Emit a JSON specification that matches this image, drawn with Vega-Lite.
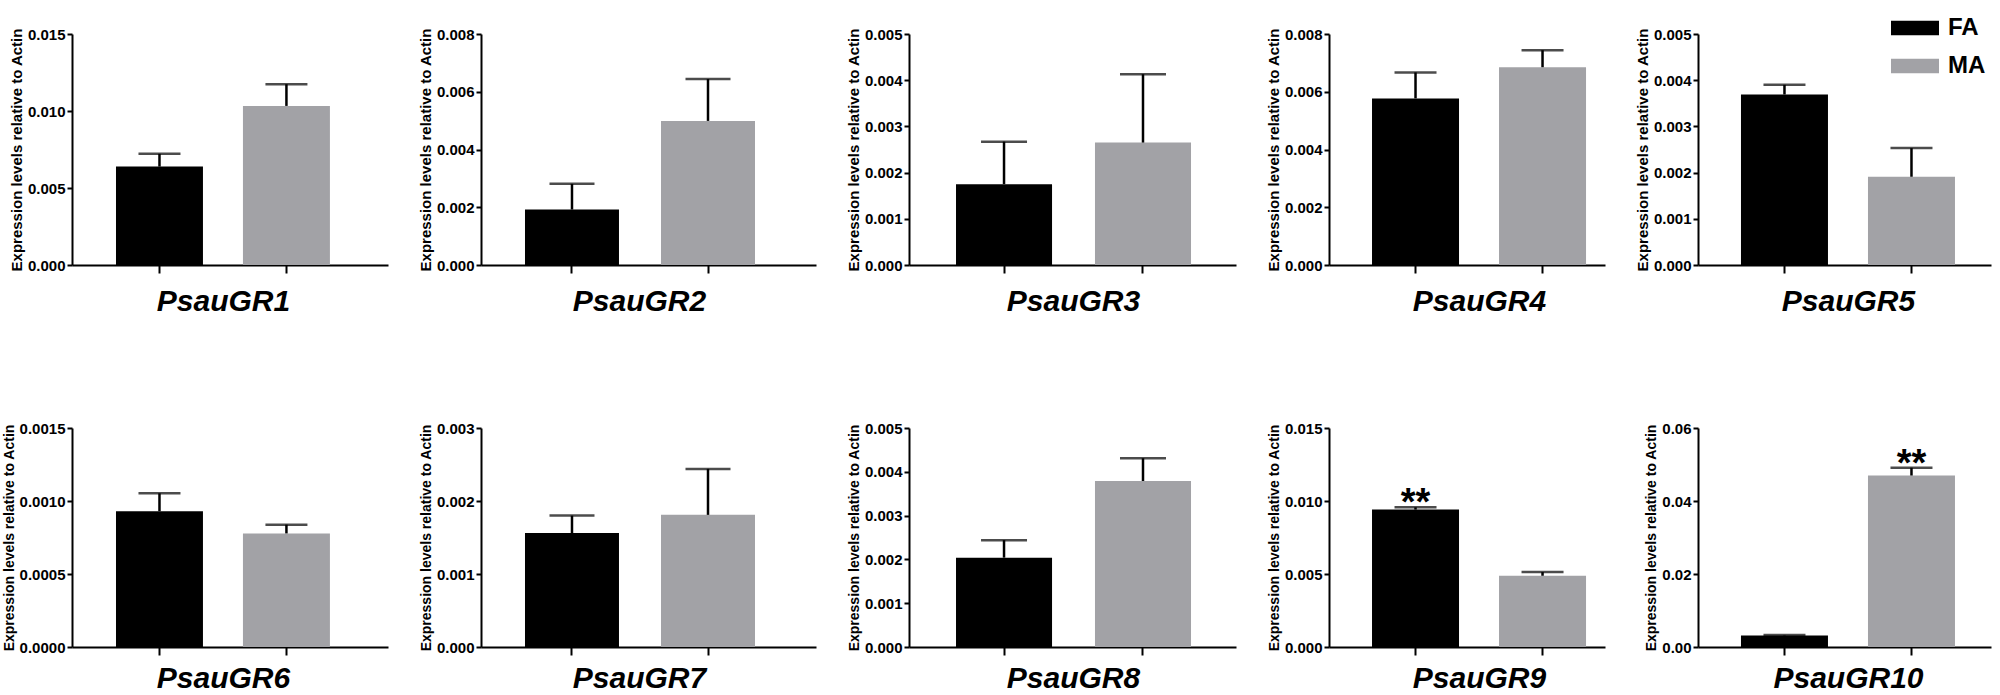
{
  "$schema": "https://vega.github.io/schema/vega-lite/v6.json",
  "padding": {"top": 4, "left": 2, "right": 2, "bottom": 0},
  "background": "white",
  "datasets": {
    "d": [
      {"gene": "PsauGR1", "group": "FA", "value": 0.00639, "hi": 0.00722, "sig": ""},
      {"gene": "PsauGR1", "group": "MA", "value": 0.01033, "hi": 0.01174, "sig": ""},
      {"gene": "PsauGR2", "group": "FA", "value": 0.00192, "hi": 0.00281, "sig": ""},
      {"gene": "PsauGR2", "group": "MA", "value": 0.00499, "hi": 0.00644, "sig": ""},
      {"gene": "PsauGR3", "group": "FA", "value": 0.00175, "hi": 0.00267, "sig": ""},
      {"gene": "PsauGR3", "group": "MA", "value": 0.00265, "hi": 0.00413, "sig": ""},
      {"gene": "PsauGR4", "group": "FA", "value": 0.00577, "hi": 0.00667, "sig": ""},
      {"gene": "PsauGR4", "group": "MA", "value": 0.00685, "hi": 0.00744, "sig": ""},
      {"gene": "PsauGR5", "group": "FA", "value": 0.00369, "hi": 0.0039, "sig": ""},
      {"gene": "PsauGR5", "group": "MA", "value": 0.00191, "hi": 0.00253, "sig": ""},
      {"gene": "PsauGR6", "group": "FA", "value": 0.00093, "hi": 0.001053, "sig": ""},
      {"gene": "PsauGR6", "group": "MA", "value": 0.000778, "hi": 0.000838, "sig": ""},
      {"gene": "PsauGR7", "group": "FA", "value": 0.00156, "hi": 0.0018, "sig": ""},
      {"gene": "PsauGR7", "group": "MA", "value": 0.00181, "hi": 0.00244, "sig": ""},
      {"gene": "PsauGR8", "group": "FA", "value": 0.00204, "hi": 0.00244, "sig": ""},
      {"gene": "PsauGR8", "group": "MA", "value": 0.00379, "hi": 0.00431, "sig": ""},
      {"gene": "PsauGR9", "group": "FA", "value": 0.00941, "hi": 0.00957, "sig": "**"},
      {"gene": "PsauGR9", "group": "MA", "value": 0.00488, "hi": 0.00513, "sig": ""},
      {"gene": "PsauGR10", "group": "FA", "value": 0.00316, "hi": 0.0033, "sig": ""},
      {"gene": "PsauGR10", "group": "MA", "value": 0.04698, "hi": 0.04912, "sig": "**"}
    ]
  },
  "columns": 5,
  "bounds": "flush",
  "align": "each",
  "spacing": {"row": 163, "column": 93},
  "resolve": {"scale": {"color": "independent"}, "legend": {"color": "independent"}},
  "concat": [
    {
      "width": 316, "height": 231,
      "data": {"name": "d"},
      "transform": [{"filter": "datum.gene === 'PsauGR1'"}],
      "encoding": {"x": {"field": "group", "type": "nominal", "sort": ["FA", "MA"], "scale": {"paddingInner": 0.315, "paddingOuter": 0.402, "align": 0.431}, "axis": {"title": "PsauGR1", "titleX": 151, "titlePadding": 12}}},
      "layer": [
        {"mark": {"type": "bar"}, "encoding": {
          "y": {"field": "value", "type": "quantitative", "title": "Expression levels relative to Actin", "scale": {"domain": [0, 0.015], "nice": false}, "axis": {"values": [0, 0.005, 0.01, 0.015], "format": ".3f"}},
          "color": {"field": "group", "type": "nominal", "scale": {"domain": ["FA", "MA"], "range": ["#000000", "#a2a2a6"]}, "legend": null}}},
        {"mark": {"type": "rule", "strokeWidth": 2.5, "color": "black"}, "encoding": {"y": {"field": "value", "type": "quantitative", "title": "Expression levels relative to Actin"}, "y2": {"field": "hi"}}},
        {"mark": {"type": "tick", "size": 42, "thickness": 2.5, "color": "black"}, "encoding": {"y": {"field": "hi", "type": "quantitative", "title": "Expression levels relative to Actin"}}}
      ]
    },
    {
      "width": 335, "height": 231,
      "data": {"name": "d"},
      "transform": [{"filter": "datum.gene === 'PsauGR2'"}],
      "encoding": {"x": {"field": "group", "type": "nominal", "sort": ["FA", "MA"], "scale": {"paddingInner": 0.309, "paddingOuter": 0.386, "align": 0.419}, "axis": {"title": "PsauGR2", "titleX": 158, "titlePadding": 12}}},
      "layer": [
        {"mark": {"type": "bar"}, "encoding": {
          "y": {"field": "value", "type": "quantitative", "title": "Expression levels relative to Actin", "scale": {"domain": [0, 0.008], "nice": false}, "axis": {"values": [0, 0.002, 0.004, 0.006, 0.008], "format": ".3f"}},
          "color": {"field": "group", "type": "nominal", "scale": {"domain": ["FA", "MA"], "range": ["#000000", "#a2a2a6"]}, "legend": null}}},
        {"mark": {"type": "rule", "strokeWidth": 2.5, "color": "black"}, "encoding": {"y": {"field": "value", "type": "quantitative", "title": "Expression levels relative to Actin"}, "y2": {"field": "hi"}}},
        {"mark": {"type": "tick", "size": 45, "thickness": 2.5, "color": "black"}, "encoding": {"y": {"field": "hi", "type": "quantitative", "title": "Expression levels relative to Actin"}}}
      ]
    },
    {
      "width": 327, "height": 231,
      "data": {"name": "d"},
      "transform": [{"filter": "datum.gene === 'PsauGR3'"}],
      "encoding": {"x": {"field": "group", "type": "nominal", "sort": ["FA", "MA"], "scale": {"paddingInner": 0.309, "paddingOuter": 0.331, "align": 0.511}, "axis": {"title": "PsauGR3", "titleX": 164, "titlePadding": 12}}},
      "layer": [
        {"mark": {"type": "bar"}, "encoding": {
          "y": {"field": "value", "type": "quantitative", "title": "Expression levels relative to Actin", "scale": {"domain": [0, 0.005], "nice": false}, "axis": {"values": [0, 0.001, 0.002, 0.003, 0.004, 0.005], "format": ".3f"}},
          "color": {"field": "group", "type": "nominal", "scale": {"domain": ["FA", "MA"], "range": ["#000000", "#a2a2a6"]}, "legend": null}}},
        {"mark": {"type": "rule", "strokeWidth": 2.5, "color": "black"}, "encoding": {"y": {"field": "value", "type": "quantitative", "title": "Expression levels relative to Actin"}, "y2": {"field": "hi"}}},
        {"mark": {"type": "tick", "size": 46, "thickness": 2.5, "color": "black"}, "encoding": {"y": {"field": "hi", "type": "quantitative", "title": "Expression levels relative to Actin"}}}
      ]
    },
    {
      "width": 276, "height": 231,
      "data": {"name": "d"},
      "transform": [{"filter": "datum.gene === 'PsauGR4'"}],
      "encoding": {"x": {"field": "group", "type": "nominal", "sort": ["FA", "MA"], "scale": {"paddingInner": 0.315, "paddingOuter": 0.244, "align": 0.694}, "axis": {"title": "PsauGR4", "titleX": 150, "titlePadding": 12}}},
      "layer": [
        {"mark": {"type": "bar"}, "encoding": {
          "y": {"field": "value", "type": "quantitative", "title": "Expression levels relative to Actin", "scale": {"domain": [0, 0.008], "nice": false}, "axis": {"values": [0, 0.002, 0.004, 0.006, 0.008], "format": ".3f"}},
          "color": {"field": "group", "type": "nominal", "scale": {"domain": ["FA", "MA"], "range": ["#000000", "#a2a2a6"]}, "legend": null}}},
        {"mark": {"type": "rule", "strokeWidth": 2.5, "color": "black"}, "encoding": {"y": {"field": "value", "type": "quantitative", "title": "Expression levels relative to Actin"}, "y2": {"field": "hi"}}},
        {"mark": {"type": "tick", "size": 42, "thickness": 2.5, "color": "black"}, "encoding": {"y": {"field": "hi", "type": "quantitative", "title": "Expression levels relative to Actin"}}}
      ]
    },
    {
      "width": 293, "height": 231,
      "data": {"name": "d"},
      "transform": [{"filter": "datum.gene === 'PsauGR5'"}],
      "encoding": {"x": {"field": "group", "type": "nominal", "sort": ["FA", "MA"], "scale": {"paddingInner": 0.315, "paddingOuter": 0.311, "align": 0.544}, "axis": {"title": "PsauGR5", "titleX": 150, "titlePadding": 12}}},
      "layer": [
        {"mark": {"type": "bar"}, "encoding": {
          "y": {"field": "value", "type": "quantitative", "title": "Expression levels relative to Actin", "scale": {"domain": [0, 0.005], "nice": false}, "axis": {"values": [0, 0.001, 0.002, 0.003, 0.004, 0.005], "format": ".3f"}},
          "color": {"field": "group", "type": "nominal", "scale": {"domain": ["FA", "MA"], "range": ["#000000", "#a2a2a6"]}, "legend": {"orient": "none", "legendX": 193, "legendY": -30, "title": null, "padding": 0, "symbolType": "M-1,-0.3L1,-0.3L1,0.3L-1,0.3Z", "symbolSize": 2304, "symbolStrokeWidth": 0, "labelFontSize": 24, "labelFontWeight": "bold", "labelColor": "black", "labelFont": "Liberation Sans", "labelOffset": 9, "rowPadding": 2, "encode": {"symbols": {"update": {"fill": {"signal": "datum.value === 'MA' ? '#c6c6c6' : '#000000'"}}}}}}}},
        {"mark": {"type": "rule", "strokeWidth": 2.5, "color": "black"}, "encoding": {"y": {"field": "value", "type": "quantitative", "title": "Expression levels relative to Actin"}, "y2": {"field": "hi"}}},
        {"mark": {"type": "tick", "size": 42, "thickness": 2.5, "color": "black"}, "encoding": {"y": {"field": "hi", "type": "quantitative", "title": "Expression levels relative to Actin"}}}
      ]
    },
    {
      "width": 316, "height": 219,
      "data": {"name": "d"},
      "transform": [{"filter": "datum.gene === 'PsauGR6'"}],
      "encoding": {"x": {"field": "group", "type": "nominal", "sort": ["FA", "MA"], "scale": {"paddingInner": 0.315, "paddingOuter": 0.402, "align": 0.431}, "axis": {"title": "PsauGR6", "titleX": 151, "titlePadding": 7}}},
      "layer": [
        {"mark": {"type": "bar"}, "encoding": {
          "y": {"field": "value", "type": "quantitative", "title": "Expression levels relative to Actin", "scale": {"domain": [0, 0.0015], "nice": false}, "axis": {"values": [0, 0.0005, 0.001, 0.0015], "format": ".4f", "titleFontSize": 14}},
          "color": {"field": "group", "type": "nominal", "scale": {"domain": ["FA", "MA"], "range": ["#000000", "#a2a2a6"]}, "legend": null}}},
        {"mark": {"type": "rule", "strokeWidth": 2.5, "color": "black"}, "encoding": {"y": {"field": "value", "type": "quantitative", "title": "Expression levels relative to Actin"}, "y2": {"field": "hi"}}},
        {"mark": {"type": "tick", "size": 42, "thickness": 2.5, "color": "black"}, "encoding": {"y": {"field": "hi", "type": "quantitative", "title": "Expression levels relative to Actin"}}}
      ]
    },
    {
      "width": 335, "height": 219,
      "data": {"name": "d"},
      "transform": [{"filter": "datum.gene === 'PsauGR7'"}],
      "encoding": {"x": {"field": "group", "type": "nominal", "sort": ["FA", "MA"], "scale": {"paddingInner": 0.309, "paddingOuter": 0.386, "align": 0.419}, "axis": {"title": "PsauGR7", "titleX": 158, "titlePadding": 7}}},
      "layer": [
        {"mark": {"type": "bar"}, "encoding": {
          "y": {"field": "value", "type": "quantitative", "title": "Expression levels relative to Actin", "scale": {"domain": [0, 0.003], "nice": false}, "axis": {"values": [0, 0.001, 0.002, 0.003], "format": ".3f", "titleFontSize": 14}},
          "color": {"field": "group", "type": "nominal", "scale": {"domain": ["FA", "MA"], "range": ["#000000", "#a2a2a6"]}, "legend": null}}},
        {"mark": {"type": "rule", "strokeWidth": 2.5, "color": "black"}, "encoding": {"y": {"field": "value", "type": "quantitative", "title": "Expression levels relative to Actin"}, "y2": {"field": "hi"}}},
        {"mark": {"type": "tick", "size": 45, "thickness": 2.5, "color": "black"}, "encoding": {"y": {"field": "hi", "type": "quantitative", "title": "Expression levels relative to Actin"}}}
      ]
    },
    {
      "width": 327, "height": 219,
      "data": {"name": "d"},
      "transform": [{"filter": "datum.gene === 'PsauGR8'"}],
      "encoding": {"x": {"field": "group", "type": "nominal", "sort": ["FA", "MA"], "scale": {"paddingInner": 0.309, "paddingOuter": 0.331, "align": 0.511}, "axis": {"title": "PsauGR8", "titleX": 164, "titlePadding": 7}}},
      "layer": [
        {"mark": {"type": "bar"}, "encoding": {
          "y": {"field": "value", "type": "quantitative", "title": "Expression levels relative to Actin", "scale": {"domain": [0, 0.005], "nice": false}, "axis": {"values": [0, 0.001, 0.002, 0.003, 0.004, 0.005], "format": ".3f", "titleFontSize": 14}},
          "color": {"field": "group", "type": "nominal", "scale": {"domain": ["FA", "MA"], "range": ["#000000", "#a2a2a6"]}, "legend": null}}},
        {"mark": {"type": "rule", "strokeWidth": 2.5, "color": "black"}, "encoding": {"y": {"field": "value", "type": "quantitative", "title": "Expression levels relative to Actin"}, "y2": {"field": "hi"}}},
        {"mark": {"type": "tick", "size": 46, "thickness": 2.5, "color": "black"}, "encoding": {"y": {"field": "hi", "type": "quantitative", "title": "Expression levels relative to Actin"}}}
      ]
    },
    {
      "width": 276, "height": 219,
      "data": {"name": "d"},
      "transform": [{"filter": "datum.gene === 'PsauGR9'"}],
      "encoding": {"x": {"field": "group", "type": "nominal", "sort": ["FA", "MA"], "scale": {"paddingInner": 0.315, "paddingOuter": 0.244, "align": 0.694}, "axis": {"title": "PsauGR9", "titleX": 150, "titlePadding": 7}}},
      "layer": [
        {"mark": {"type": "bar"}, "encoding": {
          "y": {"field": "value", "type": "quantitative", "title": "Expression levels relative to Actin", "scale": {"domain": [0, 0.015], "nice": false}, "axis": {"values": [0, 0.005, 0.01, 0.015], "format": ".3f", "titleFontSize": 14}},
          "color": {"field": "group", "type": "nominal", "scale": {"domain": ["FA", "MA"], "range": ["#000000", "#a2a2a6"]}, "legend": null}}},
        {"mark": {"type": "rule", "strokeWidth": 2.5, "color": "black"}, "encoding": {"y": {"field": "value", "type": "quantitative", "title": "Expression levels relative to Actin"}, "y2": {"field": "hi"}}},
        {"mark": {"type": "tick", "size": 42, "thickness": 2.5, "color": "black"}, "encoding": {"y": {"field": "hi", "type": "quantitative", "title": "Expression levels relative to Actin"}}},
        {"mark": {"type": "text", "fontSize": 38, "fontWeight": "bold", "font": "Liberation Sans", "baseline": "alphabetic", "dy": 8, "color": "black"}, "encoding": {"y": {"field": "hi", "type": "quantitative", "title": "Expression levels relative to Actin"}, "text": {"field": "sig"}}}
      ]
    },
    {
      "width": 293, "height": 219,
      "data": {"name": "d"},
      "transform": [{"filter": "datum.gene === 'PsauGR10'"}],
      "encoding": {"x": {"field": "group", "type": "nominal", "sort": ["FA", "MA"], "scale": {"paddingInner": 0.315, "paddingOuter": 0.311, "align": 0.544}, "axis": {"title": "PsauGR10", "titleX": 150, "titlePadding": 7}}},
      "layer": [
        {"mark": {"type": "bar"}, "encoding": {
          "y": {"field": "value", "type": "quantitative", "title": "Expression levels relative to Actin", "scale": {"domain": [0, 0.06], "nice": false}, "axis": {"values": [0, 0.02, 0.04, 0.06], "format": ".2f", "titleFontSize": 14}},
          "color": {"field": "group", "type": "nominal", "scale": {"domain": ["FA", "MA"], "range": ["#000000", "#a2a2a6"]}, "legend": null}}},
        {"mark": {"type": "rule", "strokeWidth": 2.5, "color": "black"}, "encoding": {"y": {"field": "value", "type": "quantitative", "title": "Expression levels relative to Actin"}, "y2": {"field": "hi"}}},
        {"mark": {"type": "tick", "size": 42, "thickness": 2.5, "color": "black"}, "encoding": {"y": {"field": "hi", "type": "quantitative", "title": "Expression levels relative to Actin"}}},
        {"mark": {"type": "text", "fontSize": 38, "fontWeight": "bold", "font": "Liberation Sans", "baseline": "alphabetic", "dy": 8, "color": "black"}, "encoding": {"y": {"field": "hi", "type": "quantitative", "title": "Expression levels relative to Actin"}, "text": {"field": "sig"}}}
      ]
    }
  ],
  "config": {
    "view": {"stroke": null},
    "font": "Liberation Sans",
    "axis": {"domainColor": "black", "domainWidth": 2, "tickColor": "black", "tickWidth": 2, "labelColor": "black", "titleColor": "black", "grid": false, "labelFont": "Liberation Sans", "titleFont": "Liberation Sans"},
    "axisY": {"tickSize": 5, "labelFontSize": 15, "labelFontWeight": "bold", "labelPadding": 2, "titleFontSize": 15, "titleFontWeight": "bold", "titlePadding": 3},
    "axisX": {"tickSize": 8, "labels": false, "titleFontSize": 30, "titleFontWeight": "bold", "titleFontStyle": "italic"}
  }
}
